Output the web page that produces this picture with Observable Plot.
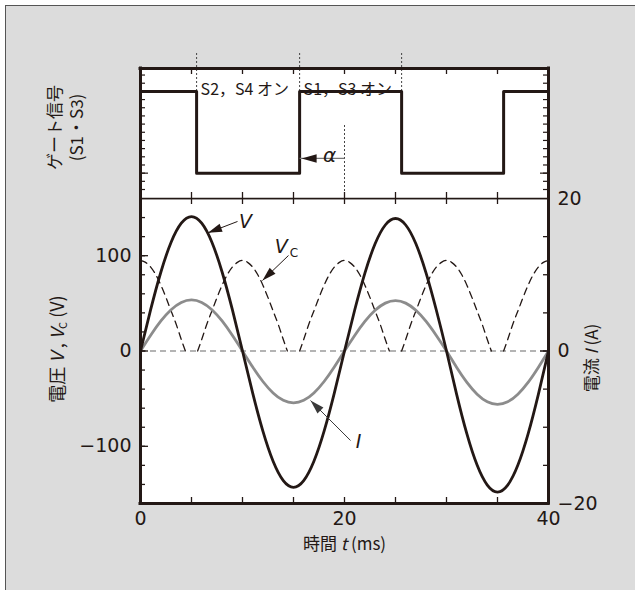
<!DOCTYPE html>
<html>
<head>
<meta charset="utf-8">
<script src="https://cdn.jsdelivr.net/npm/d3@7"></script>
<script src="https://cdn.jsdelivr.net/npm/@observablehq/plot@0.6"></script>
<style>
  body { margin: 0; background: #fff; }
  #wrap { position: relative; width: 635px; height: 590px; overflow: hidden; }
  #bg { position: absolute; left: 5px; top: 5px; width: 700px; height: 700px; background: #dcdcdc;
        border-left: 1.5px solid #555; border-top: 1.5px solid #555; }
  #bottomPanel, #topPanel { position: absolute; left: 0; top: 0; }
</style>
</head>
<body>
<div id="wrap"><div id="bg"></div><div id="bottomPanel"></div><div id="topPanel"></div></div>
<script>
// ---------------- data ----------------
const timeMs = [0,1,2,3,4,5,6,7,8,9,10,11,12,13,14,15,16,17,18,19,20,21,22,23,24,25,26,27,28,29,30,31,32,33,34,35,36,37,38,39,40];
const voltageV = [0,43.6,82.9,114.1,134.1,141,134.1,114.1,82.9,43.6,0,
  -44.2,-84.1,-115.7,-136,-143,-136,-115.7,-84.1,-44.2,0,
  43,81.7,112.5,132.2,139,132.2,112.5,81.7,43,0,
  -45.7,-87,-119.7,-140.7,-148,-140.7,-119.7,-87,-45.7,0];
const currentA = [0,2.07,3.94,5.42,6.37,6.7,6.37,5.42,3.94,2.07,0,
  -2.1,-4,-5.5,-6.47,-6.8,-6.47,-5.5,-4,-2.1,0,
  2.04,3.88,5.34,6.28,6.6,6.28,5.34,3.88,2.04,0,
  -2.16,-4.12,-5.66,-6.66,-7,-6.66,-5.66,-4.12,-2.16,0];
// capacitor voltage (NaN separates the arches)
const vcTime = [0,0.5,1,1.5,2,2.5,3,3.5,4,4.4, 5,
  5.6,6,6.5,7,7.5,8,8.5,9,9.5,10,10.5,11,11.5,12,12.5,13,13.5,14,14.4, 15,
  15.6,16,16.5,17,17.5,18,18.5,19,19.5,20,20.5,21,21.5,22,22.5,23,23.5,24,24.4, 25,
  25.6,26,26.5,27,27.5,28,28.5,29,29.5,30,30.5,31,31.5,32,32.5,33,33.5,34,34.4, 35,
  35.6,36,36.5,37,37.5,38,38.5,39,39.5,40];
const vcVolt = [95,93,88,80,69,56,42,28,12,0, NaN,
  0,12,28,42,56,69,80,88,93,95,93,88,80,69,56,42,28,12,0, NaN,
  0,12,28,42,56,69,80,88,93,95,93,88,80,69,56,42,28,12,0, NaN,
  0,12,28,42,56,69,80,88,93,95,93,88,80,69,56,42,28,12,0, NaN,
  0,12,28,42,56,69,80,88,93,95];
const gateTime = [0, 5.5, 15.6, 25.6, 35.6, 40];
const gateLevel = [1, 0, 1, 0, 1, 1];
const switchTimes = [5.5, 15.6, 25.6];
const stateLabels = ["S2，S4 オン", "S1，S3 オン"];
const refTime = [20];
const timeLabels = [0, 20, 40];
const timeTicks = [0,5,10,15,20,25,30,35,40];
const voltLabels = [-100, 0, 100];
const voltTicks = [-140,-120,-100,-80,-60,-40,-20,0,20,40,60,80,100,120,140];
const ampLabels = [-20, 0, 20];
const ampTicks = [-15,-10,-5,0,5,10,15];
const gateTicks = [-0.2,-0.1,0,0.1,0.2,0.3,0.4,0.5,0.6,0.7,0.8,0.9,1,1.1,1.2];
const gateMajor = [0, 1];

// ---------------- layout / style ----------------
const ink = "#231815";
const FONT = "'DejaVu Sans','Noto Sans CJK JP',sans-serif";
const JP = "'Noto Sans CJK JP','DejaVu Sans',sans-serif";
const W = 635, H = 590, ML = 140, MR = 87;
const topMT = 68, topH = 200, topMB = 2;
const botMT = 198, botMB = 87;
const IW = W - ML - MR;
const IH1 = topH - topMT - topMB;
const IH2 = H - botMT - botMB;
const gateDomain = [-0.31, 1.28];
const voltDomain = [-160, 160];
const voltsPerAmp = voltDomain[1] / ampLabels[2];
const timeDomain = [0, 40];

const kx = IW / (timeDomain[1] - timeDomain[0]);
const kyV = IH2 / (voltDomain[1] - voltDomain[0]);
const kyG = IH1 / (gateDomain[1] - gateDomain[0]);
// clockwise angle from "up" of the on-screen direction from (x1,y1) to (x2,y2)
const angle = (a, ky) => {
  const dxp = (a.x2 - a.x1) * kx;
  const dyp = -(a.y2 - a.y1) * ky; // screen y grows downward
  return Math.atan2(dxp, -dyp) * 180 / Math.PI;
};

const headShape = {draw(ctx, l) { ctx.moveTo(0, 0); ctx.lineTo(-4.2, l); ctx.lineTo(4.2, l); ctx.closePath(); }};

const series = timeMs.map((t, k) => ({t, v: voltageV[k], a: currentA[k]}));
const vcSeries = vcTime.map((t, k) => ({t, v: vcVolt[k]}));
const gateSeries = gateTime.map((t, k) => ({t, g: gateLevel[k]}));

// callouts (label anchor -> tip on curve)
const callouts = [
  {x1: 9.51, y1: 135.9, x2: 6.62, y2: 124, stroke: ink},
  {x1: 14.51, y1: 100.2, x2: 11.96, y2: 74, stroke: ink},
  {x1: 20.59, y1: -93.9, x2: 16.67, y2: -52, stroke: "#3a3a3a"}
];
const labels = [
  {x: 10.29, y: 135.9, text: "V", anchor: "middle"},
  {x: 14.3, y: 109.7, text: "VC", anchor: "start"},
  {x: 21.37, y: -95, text: "I", anchor: "middle"}
];
const alphaArrow = [{x1: refTime[0], y1: 0.18, x2: gateTime[2], y2: 0.18}];

const sfmt = v => (v < 0 ? "−" : "") + Math.abs(v);

// ---------------- bottom panel ----------------
const bottomPlot = Plot.plot({
  width: W, height: H,
  marginTop: botMT, marginBottom: botMB, marginLeft: ML, marginRight: MR,
  style: {background: "transparent", overflow: "visible", color: ink, fontFamily: FONT},
  x: {domain: timeDomain, axis: null},
  y: {domain: voltDomain, axis: null},
  marks: [
    Plot.frame({fill: "white", stroke: null}),
    Plot.ruleY([0], {stroke: "#6a6a6a", strokeWidth: 1.2, strokeDasharray: "6,4"}),
    Plot.line(vcSeries, {x: "t", y: "v", stroke: ink, strokeWidth: 1.3, strokeDasharray: "7,5", curve: "natural"}),
    Plot.line(series, {x: "t", y: d => d.a * voltsPerAmp, stroke: "#8c8c8c", strokeWidth: 2.8, curve: "natural"}),
    Plot.line(series, {x: "t", y: "v", stroke: ink, strokeWidth: 2.8, curve: "natural"}),
    // callouts
    Plot.link(callouts, {x1: "x1", y1: "y1", x2: "x2", y2: "y2", stroke: "stroke", strokeWidth: 1}),
    Plot.vector(callouts, {x: "x2", y: "y2", rotate: d => angle(d, kyV), length: 14, anchor: "start",
      shape: headShape, fill: "stroke", stroke: "none"}),
    Plot.text(labels, {x: "x", y: "y", text: "text", textAnchor: "anchor", fontSize: 19, fontStyle: "italic", fontFamily: FONT, fill: ink}),
    // ticks
    Plot.tickX(timeTicks, {insetTop: IH2 - 6, stroke: ink, strokeWidth: 1.3}),
    Plot.tickX(timeTicks, {insetBottom: IH2 - 6, stroke: ink, strokeWidth: 1.3}),
    Plot.tickY(voltTicks, {insetRight: IW - 5, stroke: ink, strokeWidth: 1.3}),
    Plot.tickY(voltLabels, {insetRight: IW - 8, stroke: ink, strokeWidth: 1.3}),
    Plot.tickY(ampTicks.map(a => a * voltsPerAmp), {insetLeft: IW - 5, stroke: ink, strokeWidth: 1.3}),
    Plot.tickY([0], {insetLeft: IW - 8, stroke: ink, strokeWidth: 1.3}),
    // frame
    Plot.frame({stroke: ink, strokeWidth: 1.5}),
    Plot.ruleX(timeDomain, {stroke: ink, strokeWidth: 3, strokeLinecap: "square"}),
    Plot.ruleY([voltDomain[0]], {stroke: ink, strokeWidth: 3, strokeLinecap: "square"}),
    // axes
    Plot.axisX(timeLabels, {anchor: "bottom", tickSize: 0, tickPadding: 8, fontSize: 19, fontFamily: FONT}),
    Plot.axisY(voltLabels, {anchor: "left", tickSize: 0, tickPadding: 9, fontSize: 19, fontFamily: FONT, tickFormat: sfmt}),
    Plot.axisY(ampLabels.map(a => a * voltsPerAmp), {anchor: "right", tickSize: 0, tickPadding: 9, fontSize: 19, fontFamily: FONT,
      tickFormat: v => sfmt(v / voltsPerAmp)}),
    // titles
    Plot.text(["電圧 V, VC (V)"], {text: d => d, frameAnchor: "left", textAnchor: "middle", dx: -82, dy: -2, rotate: -90,
      fontSize: 18, fontFamily: JP, fill: ink}),
    Plot.text(["電流 I (A)"], {text: d => d, frameAnchor: "right", textAnchor: "middle", dx: 44, dy: 7, rotate: -90,
      fontSize: 17, fontFamily: JP, fill: ink}),
    Plot.text(["時間 t (ms)"], {text: d => d, frameAnchor: "bottom", textAnchor: "middle", dy: 46, fontSize: 17, fontFamily: JP, fill: ink})
  ]
});
document.getElementById("bottomPanel").append(bottomPlot);

// ---------------- top panel ----------------
const topPlot = Plot.plot({
  width: W, height: topH,
  marginTop: topMT, marginBottom: topMB, marginLeft: ML, marginRight: MR,
  style: {background: "transparent", overflow: "visible", color: ink, fontFamily: FONT},
  x: {domain: timeDomain, axis: null},
  y: {domain: gateDomain, axis: null},
  marks: [
    Plot.frame({fill: "white", stroke: null}),
    Plot.ruleX(switchTimes, {insetTop: -15, insetBottom: IH1 - 23, stroke: "#444", strokeWidth: 1, strokeDasharray: "2,2"}),
    Plot.ruleX(refTime, {insetTop: 57, stroke: "#444", strokeWidth: 1, strokeDasharray: "2,2"}),
    Plot.line(gateSeries, {x: "t", y: "g", curve: "step-after", stroke: ink, strokeWidth: 3}),
    Plot.text(stateLabels, {text: d => d, x: (d, k) => switchTimes[k], frameAnchor: "top", dy: 15, dx: 4, textAnchor: "start",
      fontSize: 16, fontFamily: JP, fill: ink}),
    Plot.link(alphaArrow, {x1: "x1", y1: "y1", x2: "x2", y2: "y2", stroke: "#777", strokeWidth: 1.3}),
    Plot.vector(alphaArrow, {x: "x2", y: "y2", rotate: d => angle(d, kyG), length: 15, anchor: "start", dx: 2,
      shape: headShape, fill: ink, stroke: "none"}),
    Plot.text(["α"], {text: d => d, x: refTime[0], frameAnchor: "top", dx: -15, dy: 79, fontSize: 20, fontStyle: "italic", fontFamily: FONT, fill: ink}),
    // ticks
    Plot.tickX(timeTicks, {insetTop: IH1 - 6, stroke: ink, strokeWidth: 1.3}),
    Plot.tickX(timeTicks, {insetBottom: IH1 - 6, stroke: ink, strokeWidth: 1.3}),
    Plot.tickY(gateTicks, {insetRight: IW - 5, stroke: ink, strokeWidth: 1.2}),
    Plot.tickY(gateMajor, {insetRight: IW - 8, stroke: ink, strokeWidth: 1.2}),
    Plot.tickY(gateTicks, {insetLeft: IW - 5, stroke: ink, strokeWidth: 1.2}),
    Plot.tickY(gateMajor, {insetLeft: IW - 8, stroke: ink, strokeWidth: 1.2}),
    // frame
    Plot.frame({stroke: ink, strokeWidth: 1.5}),
    Plot.ruleX(timeDomain, {stroke: ink, strokeWidth: 3, strokeLinecap: "square"}),
    Plot.ruleY([gateDomain[1]], {stroke: ink, strokeWidth: 3, strokeLinecap: "square"}),
    // titles
    Plot.text(["ゲート信号"], {text: d => d, frameAnchor: "left", textAnchor: "middle", dx: -85, dy: -6, rotate: -90,
      fontSize: 17, fontFamily: JP, fill: ink}),
    Plot.text(["(S1・S3)"], {text: d => d, frameAnchor: "left", textAnchor: "middle", dx: -63, dy: -6, rotate: -90,
      fontSize: 17, fontFamily: JP, fill: ink})
  ]
});
document.getElementById("topPanel").append(topPlot);

// ---------------- rich text (italics / subscripts) ----------------
const rich = {
  "電圧 V, VC (V)": [["電圧 ", {}], ["V", {"font-style": "italic"}], [" , ", {}], ["V", {"font-style": "italic"}],
                    ["C", {"font-size": 11, "dy": 3}], [" (V)", {"dy": -3}]],
  "電流 I (A)": [["電流 ", {}], ["I", {"font-style": "italic"}], [" (A)", {}]],
  "時間 t (ms)": [["時間 ", {}], ["t", {"font-style": "italic"}], [" (ms)", {}]],
  "VC": [["V", {"font-style": "italic"}], ["C", {"font-size": 12, "font-style": "normal", "dx": 2, "dy": 4}]]
};
d3.selectAll("#wrap svg text").each(function() {
  const key = this.textContent;
  if (!rich[key]) return;
  const el = d3.select(this);
  el.text("");
  for (const [s, attrs] of rich[key]) {
    const ts = el.append("tspan").text(s);
    for (const [k, v] of Object.entries(attrs)) ts.attr(k, v);
  }
});
</script>
</body>
</html>
